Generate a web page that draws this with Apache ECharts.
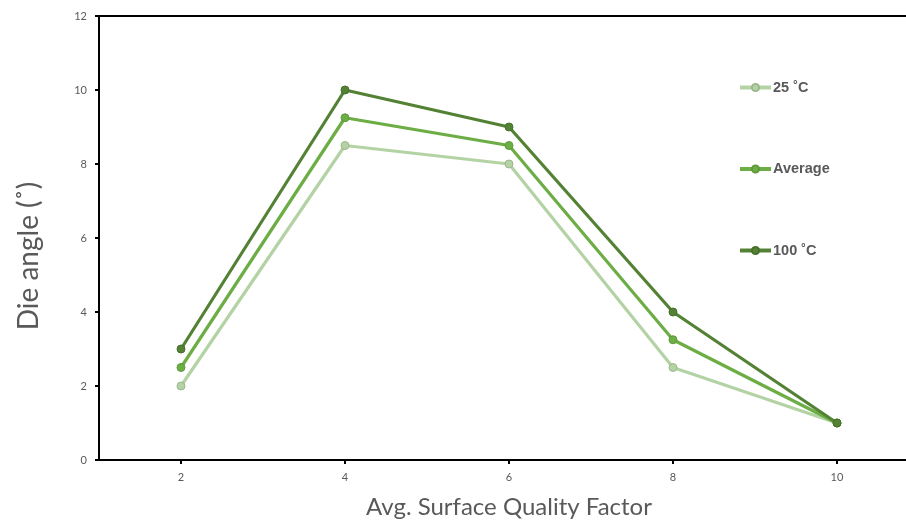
<!DOCTYPE html>
<html>
<head>
<meta charset="utf-8">
<script src="https://cdn.jsdelivr.net/npm/echarts@6/dist/echarts.min.js"></script>
<style>html,body{margin:0;padding:0;background:#fff;}#c{width:906px;height:520px;}</style>
</head>
<body>
<div id="c"></div>
<script>
const xValues = [2, 4, 6, 8, 10];
const s25 = [2, 8.5, 8, 2.5, 1];
const sAvg = [2.5, 9.25, 8.5, 3.25, 1];
const s100 = [3, 10, 9, 4, 1];
const xTicks = [2, 4, 6, 8, 10];
const seriesNames = ['25 ˚C', 'Average', '100 ˚C'];
const colors = ['#b4d3a5', '#6cad45', '#548235'];

const pair = (ys) => xValues.map((x, i) => [x, ys[i]]);
const chart = echarts.init(document.getElementById('c'));
const mk = (name, ys, color, border) => ({
  name, type: 'line', data: pair(ys), symbol: 'circle', symbolSize: 8,
  lineStyle: { color, width: 3.2 },
  itemStyle: { color, borderColor: border, borderWidth: 1 },
  emphasis: { disabled: true }
});
chart.setOption({
  animation: false,
  grid: { left: 99, top: 16, width: 820, bottom: 60, outerBoundsMode: 'none', containLabel: false },
  legend: {
    orient: 'vertical', left: 738, top: 80, itemGap: 66.5, padding: 0,
    itemWidth: 31, itemHeight: 9,
    lineStyle: { width: 4 },
    textStyle: { fontFamily: 'Liberation Sans', fontWeight: 'bold', fontSize: 14.5, color: '#595959', padding: [0, 0, 0, -3] },
    data: seriesNames
  },
  xAxis: [{
    type: 'value', min: 1, max: 11,
    name: 'Avg. Surface Quality Factor', nameLocation: 'middle', nameGap: 35,
    nameTextStyle: { fontFamily: 'Lato', fontSize: 24, color: '#595959' },
    axisLine: { lineStyle: { color: '#000', width: 2 } },
    axisTick: { show: true, length: 4, lineStyle: { color: '#000', width: 2 }, customValues: xTicks },
    axisLabel: { customValues: xTicks, color: '#595959', fontFamily: 'Lato', fontSize: 11, margin: 12 },
    splitLine: { show: false }
  }, {
    type: 'value', min: 1, max: 11, position: 'top',
    axisLine: { show: true, onZero: false, lineStyle: { color: '#000', width: 2 } },
    axisTick: { show: false }, axisLabel: { show: false }, splitLine: { show: false }
  }],
  yAxis: {
    type: 'value', min: 0, max: 12, interval: 2,
    name: 'Die angle (˚)', nameLocation: 'middle', nameGap: 56,
    nameTextStyle: { fontFamily: 'Lato', fontSize: 28, color: '#595959', padding: [0, 36, 0, 0] },
    axisLine: { show: true, lineStyle: { color: '#000', width: 2 } },
    axisTick: { show: true, length: 4, lineStyle: { color: '#000', width: 2 } },
    axisLabel: { color: '#595959', fontFamily: 'Lato', fontSize: 11, margin: 12 },
    splitLine: { show: false }
  },
  series: [
    mk(seriesNames[0], s25, colors[0], '#9cb78e'),
    mk(seriesNames[1], sAvg, colors[1], '#5f9a3b'),
    mk(seriesNames[2], s100, colors[2], '#47702c')
  ]
});
</script>
</body>
</html>
